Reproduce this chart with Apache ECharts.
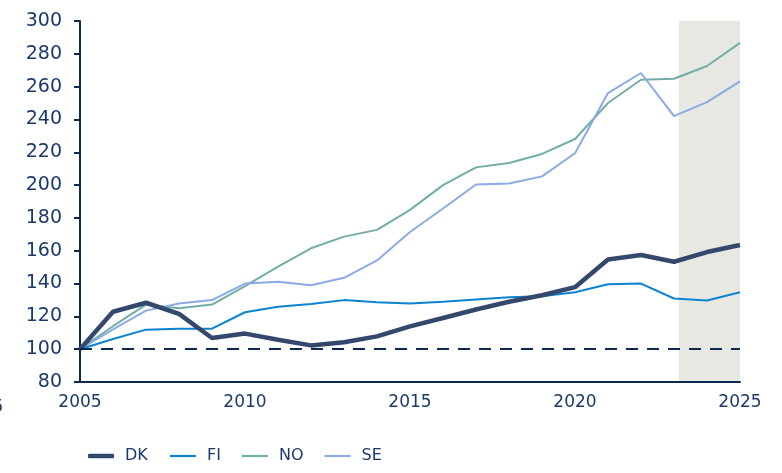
<!DOCTYPE html>
<html><head><meta charset="utf-8">
<script src="https://cdn.jsdelivr.net/npm/echarts@6/dist/echarts.min.js"></script>
<style>html,body{margin:0;padding:0;background:#fff}#c{width:782px;height:473px}</style>
</head><body><div id="c"></div>
<script>
const years = [2005,2006,2007,2008,2009,2010,2011,2012,2013,2014,2015,2016,2017,2018,2019,2020,2021,2022,2023,2024,2025];
const DK = [100,122.8,128.3,121.5,106.8,109.5,105.8,102.3,104.2,107.8,113.9,119,124.2,128.9,132.9,137.8,154.7,157.4,153.3,159.2,163.5];
const FI = [100,106.2,111.9,112.5,112.5,122.5,125.8,127.6,129.9,128.6,127.8,128.9,130.3,131.7,132.3,134.7,139.6,140,130.9,129.7,134.7];
const NO = [100,114,127.2,125,127.2,138.4,150.3,161.5,168.6,172.7,184.9,200,210.8,213.5,219,228.1,250,264.2,264.8,272.6,286.7];
const SE = [100,112,123.5,127.8,129.9,140,141.1,139,143.5,154.1,171.4,185.7,200.4,201,205.3,219.4,256.1,268.3,242,250.6,263.2];
const seriesNames = ['DK','FI','NO','SE'];
const shadeRange = [2023.15, 2025];
const baseline = 100;

const navy = '#0c2a4f';
const labelColor = '#1b3a6b';
const font = 'DejaVu Sans';
const colors = {DK:'#34486e', FI:'#0a83d1', NO:'#72aea8', SE:'#8aaae5'};
const widths = {DK:4.5, FI:2, NO:2, SE:2};
const dataMap = {DK, FI, NO, SE};

const series = seriesNames.map(n => ({
  name: n, type: 'line', symbol: 'none', z: n === 'DK' ? 3 : 2,
  data: years.map((y, i) => [y, dataMap[n][i]]),
  lineStyle: {color: colors[n], width: widths[n]},
  itemStyle: {color: colors[n]},
  emphasis: {disabled: true}
}));
series[0].markArea = {
  silent: true,
  itemStyle: {color: '#e8e8e3'},
  data: [[{xAxis: shadeRange[0]}, {xAxis: shadeRange[1]}]],
  z: 0
};
series[0].markLine = {
  silent: true, symbol: 'none', label: {show: false},
  lineStyle: {color: navy, type: [12, 9], width: 2.2},
  data: [{yAxis: baseline}]
};

const legendText = {color: labelColor, fontFamily: font, fontSize: 16, padding: [0, 0, 0, 6]};

const chart = echarts.init(document.getElementById('c'));
chart.setOption({
  animation: false,
  grid: {left: 80, right: 42, top: 21, bottom: 91},
  xAxis: {
    type: 'value', min: 2005, max: 2025, interval: 5,
    axisLine: {show: true, lineStyle: {color: navy, width: 2}},
    axisTick: {show: false},
    splitLine: {show: false},
    axisLabel: {color: labelColor, fontFamily: font, fontSize: 17, margin: 12, formatter: v => String(v)}
  },
  yAxis: {
    type: 'value', min: 80, max: 300, interval: 20,
    axisLine: {show: true, lineStyle: {color: navy, width: 2}},
    axisTick: {show: true, length: 6, lineStyle: {color: navy, width: 2}},
    splitLine: {show: false},
    axisLabel: {color: labelColor, fontFamily: font, fontSize: 19, margin: 18}
  },
  legend: [
    {data: [{name: 'DK', icon: 'roundRect', itemStyle: {borderWidth: 0}}], left: 88, top: 448, padding: 0, itemWidth: 26, itemHeight: 4.5,
     textStyle: legendText, selectedMode: false},
    {data: ['FI','NO','SE'].map(n => ({name: n, icon: 'rect', itemStyle: {borderWidth: 0}})), left: 170, top: 448, padding: 0, itemWidth: 26, itemHeight: 2.2, itemGap: 21,
     textStyle: legendText, selectedMode: false}
  ],
  graphic: [{
    type: 'text', left: -40, top: 399,
    style: {text: '2005', fill: labelColor, font: '17px "DejaVu Sans"'}
  }],
  series
});
</script></body></html>
